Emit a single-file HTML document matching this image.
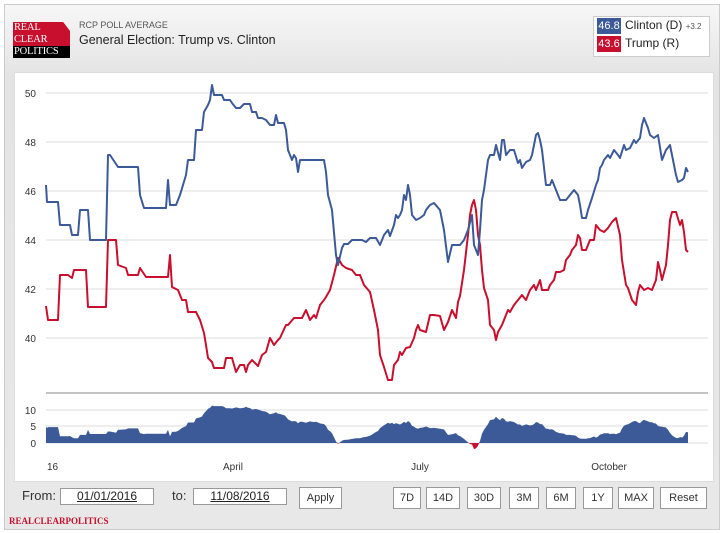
<!DOCTYPE html>
<html><head><meta charset="utf-8"><style>
body{margin:0;width:724px;height:533px;background:#fff;font-family:"Liberation Sans",sans-serif;position:relative;overflow:hidden}
#outer{position:absolute;left:4px;top:4px;width:714px;height:524px;border:1px solid #ccc;background:linear-gradient(#f7f7f7,#e4e4e4 70px,#e8e8e8);}
#chart{position:absolute;left:14px;top:72px;width:698px;height:408px;background:#fff;border:1px solid #ddd}
.btn{position:absolute;top:487px;height:20px;border:1px solid #999;background:#fff;font-size:11px;line-height:20px;text-align:center;color:#333}
.inp{position:absolute;top:488px;height:15px;border:1px solid #999;background:#fff;font-size:12px;text-align:center;line-height:15px;text-decoration:underline;color:#222}
</style></head><body>
<div id="outer"></div>
<div style="position:absolute;left:13px;top:22px;width:57px;height:36px;background:#c8102e;clip-path:polygon(0 0,88% 0,100% 25%,100% 100%,0 100%)"></div>
<div style="position:absolute;left:13px;top:46px;width:57px;height:12px;background:#000"></div>
<div style="position:absolute;left:14px;top:22px;font-family:'Liberation Serif',serif;font-size:10.5px;line-height:12px;color:#fff;letter-spacing:-0.2px">REAL<br>CLEAR<br>POLITICS</div>
<div style="position:absolute;left:79px;top:20px;font-size:9px;color:#555">RCP POLL AVERAGE</div>
<div style="position:absolute;left:79px;top:33px;font-size:12.5px;color:#222">General Election: Trump vs. Clinton</div>
<div style="position:absolute;left:593px;top:16px;width:115px;height:39px;background:#fff;border:1px solid #ccc"></div>
<div style="position:absolute;left:597px;top:18px;width:24px;height:16px;background:#3d5a98;color:#fff;font-size:11px;line-height:16px;text-align:center">46.8</div>
<div style="position:absolute;left:597px;top:36px;width:24px;height:16px;background:#c8102e;color:#fff;font-size:11px;line-height:16px;text-align:center">43.6</div>
<div style="position:absolute;left:625px;top:18px;font-size:12px;color:#222">Clinton (D) <span style="font-size:8px;color:#555">+3.2</span></div>
<div style="position:absolute;left:625px;top:36px;font-size:12px;color:#222">Trump (R)</div>
<div id="chart"></div>
<svg id="svg" style="position:absolute;left:0;top:0" width="724" height="533"></svg>
<div style="position:absolute;left:22px;top:488px;font-size:13px;color:#333">From:</div>
<div class="inp" style="left:60px;width:92px">01/01/2016</div>
<div style="position:absolute;left:172px;top:488px;font-size:13px;color:#333">to:</div>
<div class="inp" style="left:193px;width:92px">11/08/2016</div>
<div class="btn" style="left:299px;width:41px">Apply</div>
<div class="btn" style="left:393px;width:26px">7D</div>
<div class="btn" style="left:426px;width:32px">14D</div>
<div class="btn" style="left:467px;width:32px">30D</div>
<div class="btn" style="left:509px;width:28px">3M</div>
<div class="btn" style="left:546px;width:28px">6M</div>
<div class="btn" style="left:583px;width:28px">1Y</div>
<div class="btn" style="left:618px;width:34px">MAX</div>
<div class="btn" style="left:660px;width:45px">Reset</div>
<div style="position:absolute;left:9px;top:516px;font-family:'Liberation Serif',serif;font-weight:bold;font-size:9px;color:#c8102e">REALCLEARPOLITICS</div>
<script>
var C=[[46,185],[47,202],[58,202],[60,225],[70,225],[72,235],[78,235],[80,210],[88,210],[90,240],[106,240],[108,155],[110,155],[118,167],[138,167],[140,195],[144,208],[166,208],[168,180],[170,205],[176,205],[180,195],[186,175],[188,160],[194,160],[196,130],[202,130],[204,112],[208,105],[210,100],[212,85],[214,95],[222,95],[224,100],[230,100],[232,103],[236,108],[240,108],[244,104],[250,104],[252,112],[256,112],[258,118],[262,118],[266,120],[270,125],[274,125],[276,115],[278,123],[284,123],[286,130],[288,150],[292,160],[294,155],[296,158],[298,172],[300,160],[318,160],[324,160],[326,172],[328,195],[332,210],[336,255],[338,265],[342,248],[344,244],[348,244],[352,240],[362,240],[366,242],[370,238],[376,238],[380,245],[384,235],[388,230],[390,236],[394,225],[396,215],[398,218],[400,215],[402,210],[404,195],[406,200],[408,185],[410,195],[412,215],[416,220],[420,218],[424,215],[426,210],[430,205],[434,203],[440,210],[444,230],[448,262],[452,245],[460,245],[464,240],[468,230],[472,215],[474,245],[476,250],[478,255],[480,230],[482,200],[484,190],[488,160],[490,155],[494,155],[496,145],[500,160],[502,140],[504,140],[506,155],[510,150],[514,150],[518,163],[520,160],[522,168],[526,162],[530,160],[532,155],[536,135],[538,133],[540,140],[542,150],[546,185],[550,185],[552,180],[556,190],[560,200],[566,200],[570,195],[574,190],[578,195],[580,205],[582,218],[586,218],[588,210],[592,198],[596,185],[598,180],[600,168],[602,165],[604,160],[608,155],[610,158],[614,150],[618,155],[620,158],[624,145],[626,150],[630,148],[634,140],[636,143],[640,138],[642,125],[644,118],[648,128],[650,135],[654,138],[658,135],[662,160],[666,150],[670,145],[672,155],[676,175],[678,182],[682,180],[684,178],[686,168],[688,172]];
var T=[[46,306],[48,320],[58,320],[60,275],[68,275],[72,278],[74,270],[86,270],[88,307],[106,307],[108,240],[116,240],[118,265],[126,268],[128,275],[138,275],[140,268],[146,277],[168,277],[170,255],[172,287],[178,290],[182,300],[186,300],[188,312],[196,312],[200,320],[204,333],[206,345],[208,358],[212,362],[214,368],[224,368],[226,358],[232,358],[236,372],[240,365],[244,365],[246,372],[248,365],[252,360],[258,366],[262,355],[266,352],[270,338],[274,345],[278,340],[280,338],[286,325],[288,325],[294,318],[302,318],[306,310],[310,320],[314,315],[316,318],[320,305],[324,300],[326,297],[330,290],[334,275],[338,258],[342,265],[346,268],[352,270],[356,275],[360,275],[364,285],[370,292],[374,310],[378,330],[380,355],[384,367],[388,380],[392,380],[394,365],[398,360],[400,352],[402,355],[406,348],[410,347],[414,338],[416,330],[418,325],[420,330],[426,332],[430,315],[434,315],[440,316],[444,330],[448,322],[452,310],[456,318],[458,302],[460,296],[464,270],[468,235],[470,215],[472,205],[474,200],[476,210],[478,235],[480,245],[482,270],[484,288],[488,300],[490,325],[494,330],[496,340],[498,332],[502,325],[506,315],[508,310],[510,312],[514,305],[518,300],[522,295],[526,300],[530,290],[534,285],[536,290],[540,280],[542,290],[548,290],[550,285],[554,280],[556,272],[560,272],[564,270],[566,260],[570,255],[572,250],[576,245],[578,235],[580,238],[582,250],[586,250],[590,240],[594,240],[596,225],[600,230],[604,232],[608,228],[612,222],[616,218],[620,235],[622,260],[626,285],[628,288],[632,300],[636,305],[638,292],[640,285],[644,290],[648,288],[652,290],[656,280],[658,262],[660,270],[662,280],[666,265],[668,245],[670,220],[672,212],[676,212],[680,225],[682,220],[684,232],[686,250],[688,252]];
function interp(a,x){for(var i=1;i<a.length;i++){if(a[i][0]>=x){var p=a[i-1],q=a[i];var t=(x-p[0])/((q[0]-p[0])||1);return p[1]+t*(q[1]-p[1]);}}return a[a.length-1][1];}
var s='';
[93,142,191,240,289,338].forEach(function(y,i){s+='<line x1="46" x2="708" y1="'+y+'" y2="'+y+'" stroke="#ddd"/>';s+='<text x="36" y="'+(y+4)+'" font-size="10" fill="#333" text-anchor="end" font-family="Liberation Sans">'+(50-2*i)+'</text>';});
s+='<line x1="46" x2="708" y1="393" y2="393" stroke="#888"/>';
[[410,10],[426,5],[443,0]].forEach(function(a){s+='<line x1="46" x2="708" y1="'+a[0]+'" y2="'+a[0]+'" stroke="#ddd"/>';s+='<text x="36" y="'+(a[0]+4)+'" font-size="10" fill="#333" text-anchor="end" font-family="Liberation Sans">'+a[1]+'</text>';});
var pos='M46,443',neg='M46,443';
for(var x=46;x<=688;x+=1){var d=(interp(T,x)-interp(C,x))*0.135;var y=443-d;pos+=' L'+x+','+(d>0?y:443).toFixed(1);neg+=' L'+x+','+(d<0?y:443).toFixed(1);}
pos+=' L688,443 Z';neg+=' L688,443 Z';
s+='<path d="'+pos+'" fill="#3d5a98"/><path d="'+neg+'" fill="#c8102e"/>';
function pl(a,c){return '<polyline fill="none" stroke="'+c+'" stroke-width="2" stroke-linejoin="round" points="'+a.map(function(p){return p.join(',')}).join(' ')+'"/>';}
s+=pl(T,'#c8102e')+pl(C,'#3d5a98');
[[47,'16'],[233,'April'],[420,'July'],[609,'October']].forEach(function(a){s+='<text x="'+a[0]+'" y="470" font-size="10" fill="#333" text-anchor="'+(a[1]=='16'?'start':'middle')+'" font-family="Liberation Sans">'+a[1]+'</text>';});
document.getElementById('svg').innerHTML=s;
</script>
</body></html>
